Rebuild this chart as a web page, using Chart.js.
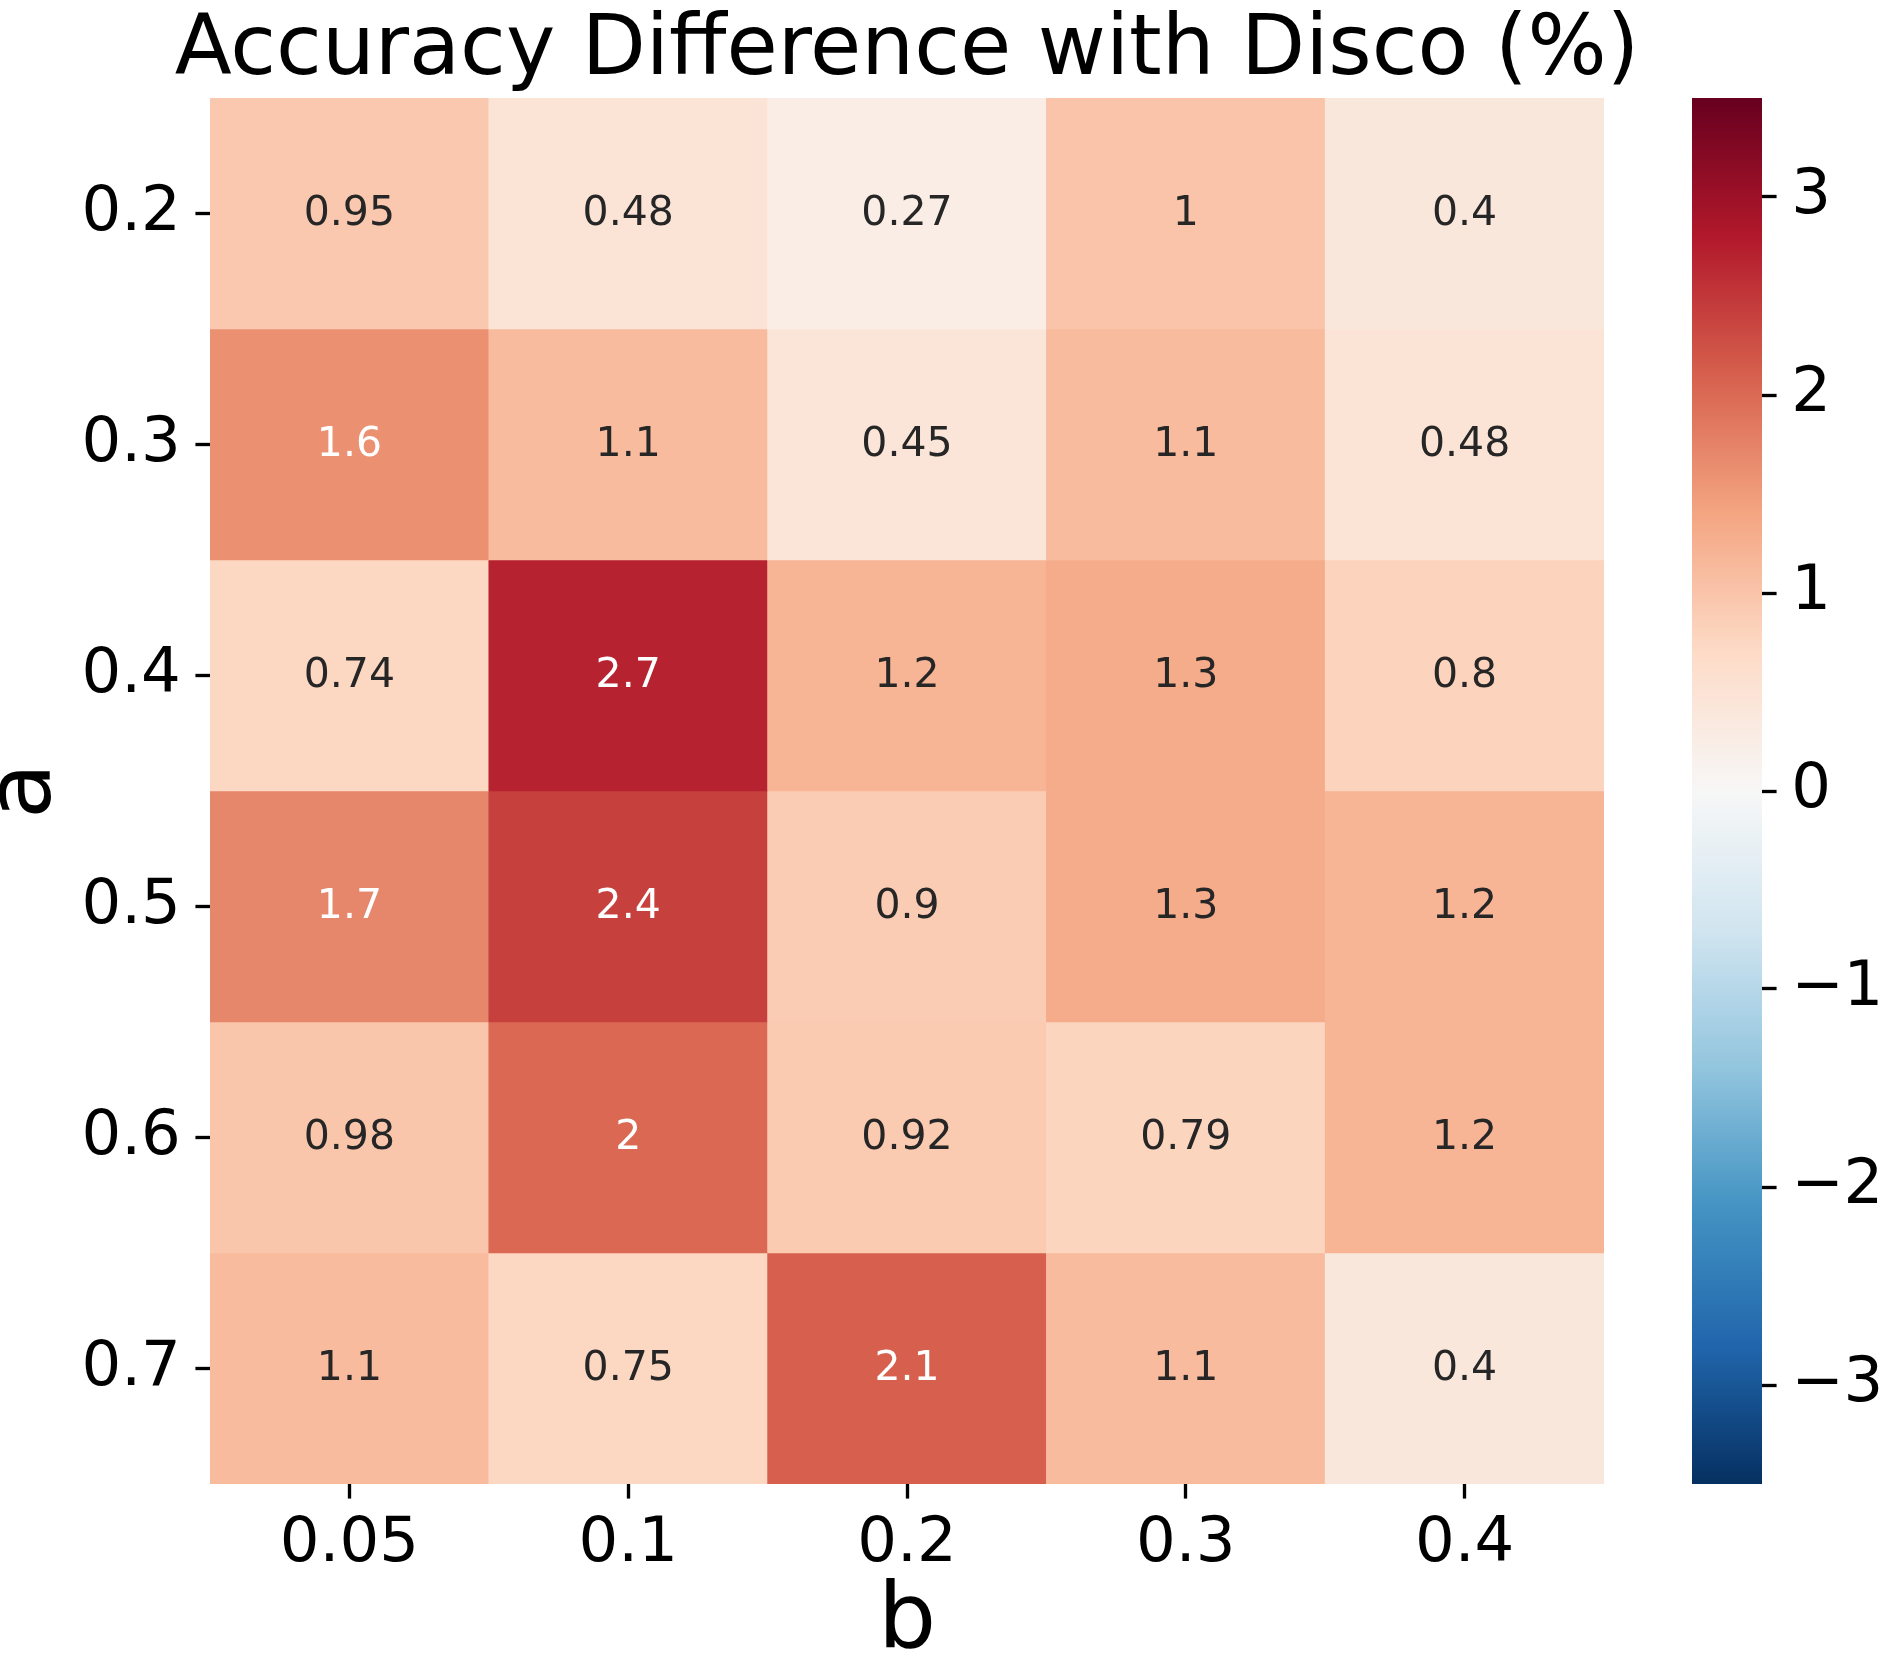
<!DOCTYPE html>
<html>
<head>
<meta charset="utf-8">
<script src="https://cdn.jsdelivr.net/npm/chart.js@4.4.1/dist/chart.umd.min.js"></script>
<style>
  html, body { margin: 0; padding: 0; background: #ffffff; }
  #wrap { position: relative; width: 1887px; height: 1666px; background: #ffffff; }
  #heat { position: absolute; left: 0; top: 0; }
  #cbar { position: absolute; left: 1692px; top: 0; z-index: 2; }
</style>
</head>
<body>
<div id="wrap">
  <canvas id="heat" width="1814" height="1666"></canvas>
  <canvas id="cbar" width="195" height="1666"></canvas>
</div>
<script>
// ---- data ----
const bLabels = ['0.05', '0.1', '0.2', '0.3', '0.4'];
const aLabels = ['0.2', '0.3', '0.4', '0.5', '0.6', '0.7'];
const rowA02 = [0.95, 0.48, 0.27, 1.0, 0.40];
const rowA03 = [1.6, 1.1, 0.45, 1.1, 0.48];
const rowA04 = [0.74, 2.7, 1.2, 1.3, 0.80];
const rowA05 = [1.7, 2.4, 0.90, 1.3, 1.2];
const rowA06 = [0.98, 2.0, 0.92, 0.79, 1.2];
const rowA07 = [1.1, 0.75, 2.1, 1.1, 0.40];
const rows = [rowA02, rowA03, rowA04, rowA05, rowA06, rowA07];
const vMin = -3.5, vMax = 3.5;
const cbTicks = [-3, -2, -1, 0, 1, 2, 3];
const titleText = 'Accuracy Difference with Disco (%)';

// ---- colormap (RdBu_r) ----
const rdbuR = ['#053061', '#2166ac', '#4393c3', '#92c5de', '#d1e5f0', '#f7f7f7',
               '#fddbc7', '#f4a582', '#d6604d', '#b2182b', '#67001f'];
function hexToRgb(h) { return [parseInt(h.slice(1,3),16), parseInt(h.slice(3,5),16), parseInt(h.slice(5,7),16)]; }
const cmapRgb = rdbuR.map(hexToRgb);
function colorRgb(v) {
  let t = (v - vMin) / (vMax - vMin);
  t = Math.max(0, Math.min(1, t));
  t = Math.min(255, Math.floor(t * 256)) / 255;
  const p = t * (cmapRgb.length - 1);
  const i = Math.min(cmapRgb.length - 2, Math.floor(p));
  const f = p - i;
  return cmapRgb[i].map((c, k) => c + (cmapRgb[i + 1][k] - c) * f);
}
function colorFor(v) { const c = colorRgb(v); return `rgb(${c.map(x => Math.round(x)).join(',')})`; }
function textColorFor(v) {
  const lin = colorRgb(v).map(c => { c /= 255; return c <= 0.03928 ? c / 12.92 : Math.pow((c + 0.055) / 1.055, 2.4); });
  const lum = 0.2126 * lin[0] + 0.7152 * lin[1] + 0.0722 * lin[2];
  return lum > 0.408 ? 'rgb(38,38,38)' : '#ffffff';
}
function fmt(v) { return String(Number(v.toPrecision(2))); }

const FONT = 'DejaVu Sans';
const PT = 300 / 72;

// ---- annotation plugin ----
const cellLabels = {
  id: 'cellLabels',
  afterDatasetsDraw(chart) {
    const ctx = chart.ctx;
    ctx.save();
    ctx.font = `41px "${FONT}"`;
    ctx.textAlign = 'center';
    ctx.textBaseline = 'middle';
    rows.forEach((row, i) => {
      const meta = chart.getDatasetMeta(i);
      meta.data.forEach((bar, j) => {
        const p = bar.getProps(['x', 'y', 'base'], true);
        const cy = (p.y + p.base) / 2;
        ctx.fillStyle = textColorFor(row[j]);
        ctx.fillText(fmt(row[j]), p.x, cy + 1);
      });
    });
    ctx.restore();
  }
};

Chart.defaults.font.family = FONT;
Chart.defaults.color = '#000000';

new Chart(document.getElementById('heat'), {
  type: 'bar',
  data: {
    labels: bLabels,
    datasets: rows.map((row, i) => ({
      label: aLabels[i],
      data: row.map(() => [i, i + 1]),
      backgroundColor: row.map(colorFor),
      borderWidth: 0,
      grouped: false,
      barPercentage: 1,
      categoryPercentage: 1
    }))
  },
  options: {
    responsive: false,
    devicePixelRatio: 1,
    animation: false,
    layout: { padding: 0 },
    plugins: {
      legend: { display: false },
      tooltip: { enabled: false },
      title: {
        display: true,
        fullSize: true,
        text: titleText,
        color: '#000000',
        font: { family: FONT, size: 20 * PT, weight: 'normal', lineHeight: 1 },
        padding: { top: 10.5, bottom: 4.2 }
      }
    },
    scales: {
      x: {
        type: 'category',
        position: 'bottom',
        border: { display: false },
        grid: { offset: false, drawOnChartArea: false, drawTicks: true, tickLength: 3.5 * PT, tickWidth: 0.8 * PT, tickColor: '#000000' },
        ticks: { color: '#000000', font: { family: FONT, size: 15 * PT, lineHeight: 1 }, padding: 3.5 * PT, maxRotation: 0, autoSkip: false },
        title: { display: true, text: 'b', color: '#000000', font: { family: FONT, size: 22 * PT, lineHeight: 0.9 }, padding: { top: 0, bottom: 1.7 } },
        afterFit: s => { s.height = 182; }
      },
      y: {
        type: 'linear',
        position: 'left',
        min: 0,
        max: 6,
        reverse: true,
        border: { display: false },
        grid: { drawOnChartArea: false, drawTicks: true, tickLength: 3.5 * PT, tickWidth: 0.8 * PT, tickColor: '#000000' },
        afterBuildTicks: s => { s.ticks = aLabels.map((_, i) => ({ value: i + 0.5 })); },
        ticks: { color: '#000000', font: { family: FONT, size: 15 * PT, lineHeight: 1 }, padding: 3.5 * PT, autoSkip: false,
                 callback: (v, idx) => aLabels[idx] },
        title: { display: true, text: 'a', color: '#000000', font: { family: FONT, size: 22 * PT, lineHeight: 0.48 }, padding: { top: 4, bottom: 0 } },
        afterFit: s => { s.width = 210; }
      },
      // empty spacer on the right so the heatmap is centred under the title
      ySpacer: {
        type: 'linear',
        position: 'right',
        min: 0,
        max: 6,
        border: { display: false },
        grid: { display: false },
        ticks: { display: false },
        afterFit: s => { s.width = 210; }
      }
    }
  },
  plugins: [cellLabels]
});

// ---- colorbar ----
new Chart(document.getElementById('cbar'), {
  type: 'bar',
  data: {
    labels: [''],
    datasets: [{
      data: [[vMin, vMax]],
      borderWidth: 0,
      barPercentage: 1,
      categoryPercentage: 1,
      backgroundColor: (ctx) => {
        const ca = ctx.chart.chartArea;
        if (!ca) return '#f7f7f7';
        const g = ctx.chart.ctx.createLinearGradient(0, ca.bottom, 0, ca.top);
        rdbuR.forEach((c, k) => g.addColorStop(k / (rdbuR.length - 1), c));
        return g;
      }
    }]
  },
  options: {
    responsive: false,
    devicePixelRatio: 1,
    animation: false,
    layout: { padding: { left: 0, right: 0, top: 98, bottom: 182 } },
    plugins: { legend: { display: false }, tooltip: { enabled: false }, title: { display: false } },
    scales: {
      x: { display: false },
      y: {
        type: 'linear',
        position: 'right',
        min: vMin,
        max: vMax,
        border: { display: false },
        grid: { drawOnChartArea: false, drawTicks: true, tickLength: 3.5 * PT, tickWidth: 0.8 * PT, tickColor: '#000000' },
        afterBuildTicks: s => { s.ticks = cbTicks.map(v => ({ value: v })); },
        ticks: { color: '#000000', font: { family: FONT, size: 15 * PT, lineHeight: 1 }, padding: 3.5 * PT, autoSkip: false,
                 callback: v => (v < 0 ? '\u2212' + Math.abs(v) : String(v)) },
        afterFit: s => { s.width = 125; }
      }
    }
  }
});
</script>
</body>
</html>
